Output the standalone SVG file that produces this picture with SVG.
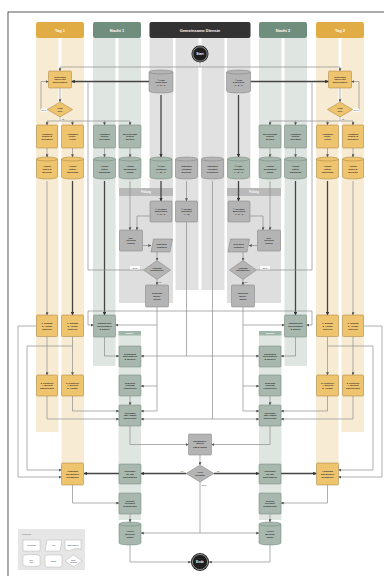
<svg xmlns="http://www.w3.org/2000/svg" width="384" height="576" viewBox="0 0 384 576">
<defs>
<style>
.hd{font-family:"Liberation Sans",Arial,sans-serif;font-weight:bold;font-size:4px;fill:#fff;text-anchor:middle}
.sh{font-family:"Liberation Sans",Arial,sans-serif;font-weight:bold;font-size:2.6px;fill:#fff;text-anchor:middle}
.t{font-family:"Liberation Sans",Arial,sans-serif;font-weight:bold;font-size:2.4px;fill:#2a2a2a;text-anchor:middle}
.tb{font-family:"Liberation Sans",Arial,sans-serif;font-weight:bold;font-size:3.2px;fill:#fff;text-anchor:middle}
.lb{font-family:"Liberation Sans",Arial,sans-serif;font-size:2.4px;fill:#333;text-anchor:middle}
.tg{fill:#efc46e;stroke:#a07f3f;stroke-width:0.5}
.ng{fill:#a8b8ae;stroke:#6d8276;stroke-width:0.5}
.gy{fill:#b4b4b4;stroke:#7d7d7d;stroke-width:0.5}
.lid{fill:none;stroke-width:0.5}
.lt{fill:#f8ebd3}
.ln{fill:#dfe5e1}
.lm{fill:#e1e1e1}
.c{fill:none;stroke:#8c8c8c;stroke-width:0.7}
.k{fill:none;stroke:#444;stroke-width:1.3}
.lgs{fill:#fff;stroke:#b5b5b5;stroke-width:0.5}
</style>
<marker id="a" viewBox="0 0 6 6" refX="5.5" refY="3" markerWidth="3" markerHeight="3" markerUnits="userSpaceOnUse" orient="auto"><path d="M0,0 L6,3 L0,6 z" fill="#555"/></marker>
<marker id="ak" viewBox="0 0 6 6" refX="5.5" refY="3" markerWidth="3.6" markerHeight="3.6" markerUnits="userSpaceOnUse" orient="auto"><path d="M0,0 L6,3 L0,6 z" fill="#333"/></marker>
</defs>
<rect x="0" y="0" width="384" height="576" fill="#fff"/>
<rect x="8" y="12" width="400" height="600" fill="#fff" stroke="#333" stroke-width="0.8"/>

<g id="lanes">
<rect class="lt" x="36" y="38" width="22.5" height="394"/>
<rect class="lt" x="61.5" y="38" width="22.5" height="432"/>
<rect class="lt" x="316" y="38" width="22.5" height="432"/>
<rect class="lt" x="341.5" y="38" width="22.5" height="394"/>
<rect class="ln" x="93" y="38" width="22.5" height="328"/>
<rect class="ln" x="118.5" y="38" width="22.5" height="150"/>
<rect class="ln" x="259" y="38" width="22.5" height="150"/>
<rect class="ln" x="284.5" y="38" width="22.5" height="328"/>
<rect class="ln" x="118.5" y="335" width="22.5" height="185"/>
<rect class="ln" x="259" y="335" width="22.5" height="185"/>
<rect class="lm" x="149.5" y="38" width="23.5" height="150"/>
<rect class="lm" x="175.5" y="38" width="23" height="252"/>
<rect class="lm" x="201.5" y="38" width="23" height="252"/>
<rect class="lm" x="227" y="38" width="23.5" height="150"/>
<rect x="119" y="188" width="54" height="115" fill="#dedede"/>
<rect x="119" y="188" width="54" height="8" fill="#b9b9b9"/>
<text class="sh" x="146" y="193">Prüfung</text>
<rect x="227" y="188" width="54" height="115" fill="#dedede"/>
<rect x="227" y="188" width="54" height="8" fill="#b9b9b9"/>
<text class="sh" x="254" y="193">Prüfung</text>
<rect x="118.5" y="331" width="22.5" height="4.5" fill="#9fb5a9"/>
<text class="sh" x="129.75" y="334.3" style="font-size:2.3px">Nacht 1</text>
<rect x="259" y="331" width="22.5" height="4.5" fill="#9fb5a9"/>
<text class="sh" x="270.25" y="334.3" style="font-size:2.3px">Nacht 2</text>
<rect x="36" y="22" width="48" height="16" rx="2" fill="#e2ac44"/>
<text class="hd" x="60" y="31.5">Tag 1</text>
<rect x="93" y="22" width="48" height="16" rx="2" fill="#6f8e7e"/>
<text class="hd" x="117" y="31.5">Nacht 1</text>
<rect x="149.5" y="22" width="101" height="16" rx="2" fill="#333"/>
<text class="hd" x="200" y="31.5">Gemeinsame Dienste</text>
<rect x="259" y="22" width="48" height="16" rx="2" fill="#6f8e7e"/>
<text class="hd" x="283" y="31.5">Nacht 2</text>
<rect x="316" y="22" width="48" height="16" rx="2" fill="#e2ac44"/>
<text class="hd" x="340" y="31.5">Tag 2</text>
</g>

<g id="connectors">
<path class="c" d="M200,62.5 V67 H60 V71" marker-end="url(#a)"/>
<path class="c" d="M200,67 H340 V71" marker-end="url(#a)"/>
<path class="k" d="M149,81.5 H71.5" marker-end="url(#ak)"/>
<path class="k" d="M250.5,81.5 H328.5" marker-end="url(#ak)"/>
<path class="k" d="M161,95 V157" marker-end="url(#ak)"/>
<path class="k" d="M238.5,95 V157" marker-end="url(#ak)"/>
<path class="c" d="M60,88 V102" marker-end="url(#a)"/>
<path class="c" d="M340,88 V102" marker-end="url(#a)"/>
<path class="c" d="M47.5,109.5 H41 V81.5 H48.5" marker-end="url(#a)"/>
<path class="c" d="M352.5,109.5 H359 V81.5 H351.5" marker-end="url(#a)"/>
<path class="c" d="M60,117 V121 M47,121 H130 M270,121 H353 M340,117 V121"/>
<path class="c" d="M47,121 V125" marker-end="url(#a)"/>
<path class="c" d="M72.5,121 V125" marker-end="url(#a)"/>
<path class="c" d="M104.5,121 V125" marker-end="url(#a)"/>
<path class="c" d="M130,121 V125" marker-end="url(#a)"/>
<path class="c" d="M270,121 V125" marker-end="url(#a)"/>
<path class="c" d="M295.5,121 V125" marker-end="url(#a)"/>
<path class="c" d="M327.5,121 V125" marker-end="url(#a)"/>
<path class="c" d="M353,121 V125" marker-end="url(#a)"/>
<path class="c" d="M47,148 V157" marker-end="url(#a)"/>
<path class="c" d="M72.5,148 V157" marker-end="url(#a)"/>
<path class="c" d="M104.5,148 V157" marker-end="url(#a)"/>
<path class="c" d="M130,148 V157" marker-end="url(#a)"/>
<path class="c" d="M270,148 V157" marker-end="url(#a)"/>
<path class="c" d="M295.5,148 V157" marker-end="url(#a)"/>
<path class="c" d="M327.5,148 V157" marker-end="url(#a)"/>
<path class="c" d="M353,148 V157" marker-end="url(#a)"/>
<path class="c" d="M47,181 V315" marker-end="url(#a)"/>
<path class="c" d="M353,181 V315" marker-end="url(#a)"/>
<path class="k" d="M72.5,181 V315" marker-end="url(#ak)"/>
<path class="k" d="M104.5,181 V315" marker-end="url(#ak)"/>
<path class="k" d="M295.5,181 V315" marker-end="url(#ak)"/>
<path class="k" d="M327.5,181 V315" marker-end="url(#ak)"/>
<path class="c" d="M130,181 V230" marker-end="url(#a)"/>
<path class="c" d="M270,181 V230" marker-end="url(#a)"/>
<path class="k" d="M161,181 V201" marker-end="url(#ak)"/>
<path class="k" d="M238.5,181 V201" marker-end="url(#ak)"/>
<path class="c" d="M186.5,181 V201" marker-end="url(#a)"/>
<path class="c" d="M150,216 H137 V230" marker-end="url(#a)"/>
<path class="c" d="M250,216 H263 V230" marker-end="url(#a)"/>
<path class="c" d="M142.5,245.5 H151" marker-end="url(#a)"/>
<path class="c" d="M257.5,245.5 H249" marker-end="url(#a)"/>
<path class="c" d="M157,252 V260.5" marker-end="url(#a)"/>
<path class="c" d="M243,252 V260.5" marker-end="url(#a)"/>
<path class="c" d="M143.5,270 H88 V82.5"/>
<path class="c" d="M256.5,270 H312 V82.5"/>
<path class="c" d="M157,279.5 V285" marker-end="url(#a)"/>
<path class="c" d="M243,279.5 V285" marker-end="url(#a)"/>
<path class="c" d="M157,307 V411 H141" marker-end="url(#a)"/>
<path class="c" d="M157,325 H115.5" marker-end="url(#a)"/>
<path class="c" d="M157,386 H141" marker-end="url(#a)"/>
<path class="c" d="M243,307 V411 H259" marker-end="url(#a)"/>
<path class="c" d="M243,325 H284.5" marker-end="url(#a)"/>
<path class="c" d="M243,386 H259" marker-end="url(#a)"/>
<path class="c" d="M186.5,222 V356 H141" marker-end="url(#a)"/>
<path class="c" d="M186.5,356 H259" marker-end="url(#a)"/>
<path class="c" d="M186.5,311 H88 V325 H93.5" marker-end="url(#a)"/>
<path class="c" d="M186.5,311 H312 V325 H306.5" marker-end="url(#a)"/>
<path class="c" d="M212.5,181 V419 H141" marker-end="url(#a)"/>
<path class="c" d="M212.5,419 H259" marker-end="url(#a)"/>
<path class="c" d="M104.5,337 V356 H119" marker-end="url(#a)"/>
<path class="c" d="M295.5,337 V356 H281" marker-end="url(#a)"/>
<path class="c" d="M47,336.5 V375" marker-end="url(#a)"/>
<path class="c" d="M72.5,336.5 V375" marker-end="url(#a)"/>
<path class="c" d="M327.5,336.5 V375" marker-end="url(#a)"/>
<path class="c" d="M353,336.5 V375" marker-end="url(#a)"/>
<path class="c" d="M36.5,326 H18 V477 H61.5" marker-end="url(#a)"/>
<path class="c" d="M72.5,346 H27 V470 H61.5" marker-end="url(#a)"/>
<path class="c" d="M363.5,326 H382 V477 H338.5" marker-end="url(#a)"/>
<path class="c" d="M327.5,346 H373 V470 H338.5" marker-end="url(#a)"/>
<path class="c" d="M47,396 V419 H119" marker-end="url(#a)"/>
<path class="c" d="M72.5,396 V411 H119" marker-end="url(#a)"/>
<path class="c" d="M353,396 V419 H281" marker-end="url(#a)"/>
<path class="c" d="M327.5,396 V411 H281" marker-end="url(#a)"/>
<path class="c" d="M130,396 V405" marker-end="url(#a)"/>
<path class="c" d="M270,396 V405" marker-end="url(#a)"/>
<path class="c" d="M130,426 V444.5 H188.5" marker-end="url(#a)"/>
<path class="c" d="M270,426 V444.5 H211.5" marker-end="url(#a)"/>
<path class="c" d="M200,455 V465" marker-end="url(#a)"/>
<path class="k" d="M186,473.5 H141" marker-end="url(#ak)"/>
<path class="k" d="M214,473.5 H259" marker-end="url(#ak)"/>
<path class="k" d="M119,473.5 H84" marker-end="url(#ak)"/>
<path class="k" d="M281,473.5 H316.5" marker-end="url(#ak)"/>
<path class="c" d="M72.5,485 V503 H119" marker-end="url(#a)"/>
<path class="c" d="M327.5,485 V503 H281" marker-end="url(#a)"/>
<path class="c" d="M130,514 V522" marker-end="url(#a)"/>
<path class="c" d="M270,514 V522" marker-end="url(#a)"/>
<path class="c" d="M200,482 V533 H141" marker-end="url(#a)"/>
<path class="c" d="M200,533 H259" marker-end="url(#a)"/>
<path class="c" d="M130,545 V562 H191" marker-end="url(#a)"/>
<path class="c" d="M270,545 V562 H209" marker-end="url(#a)"/>
<rect x="41" y="108.5" width="6" height="3.6" fill="#fff"/>
<text class="lb" x="44" y="111.2" style="font-size:2.2px">Nein</text>
<rect x="353" y="108.5" width="6" height="3.6" fill="#fff"/>
<text class="lb" x="356" y="111.2" style="font-size:2.2px">Nein</text>
<text class="lb" x="63" y="120" style="font-size:2.2px">Ja</text>
<text class="lb" x="343" y="120" style="font-size:2.2px">Ja</text>
<rect x="130" y="266" width="10" height="3.4" fill="#fff"/>
<text class="lb" x="135" y="268.6" style="font-size:2.2px">Nein</text>
<rect x="260" y="266" width="10" height="3.4" fill="#fff"/>
<text class="lb" x="265" y="268.6" style="font-size:2.2px">Nein</text>
<text class="lb" x="160" y="283.2" style="font-size:2.2px">Ja</text>
<text class="lb" x="246" y="283.2" style="font-size:2.2px">Ja</text>
<text class="lb" x="182" y="472" style="font-size:2.2px">Ja</text>
<text class="lb" x="218" y="472" style="font-size:2.2px">Ja</text>
<text class="lb" x="204" y="486" style="font-size:2.2px">Nein</text>
</g>

<g id="start"><circle cx="200" cy="54" r="8.5" fill="#1e1e1e"/><circle cx="200" cy="54" r="7.2" fill="none" stroke="#fff" stroke-width="0.5"/><text class="tb" x="200" y="55.2">Start</text></g>
<g id="ende"><circle cx="200" cy="562" r="9" fill="#1e1e1e"/><circle cx="200" cy="562" r="7.6" fill="none" stroke="#fff" stroke-width="0.5"/><text class="tb" x="200" y="563.2">Ende</text></g>

<g id="db-oben-1"><path class="gy" d="M149,72 a12,2 0 0 1 24,0 v19 a12,2 0 0 1 -24,0 z"/><path class="lid" stroke="#7d7d7d" d="M149,72 a12,2 0 0 0 24,0"/><text class="t" x="161" y="80.5">≡ Plan</text><text class="t" x="161" y="83.4">Schichten</text><text class="t" x="161" y="86.3">1 · 2 · 3</text></g>
<g id="db-oben-2"><path class="gy" d="M226.5,72 a12,2 0 0 1 24,0 v19 a12,2 0 0 1 -24,0 z"/><path class="lid" stroke="#7d7d7d" d="M226.5,72 a12,2 0 0 0 24,0"/><text class="t" x="238.5" y="80.5">≡ Plan</text><text class="t" x="238.5" y="83.4">Schichten</text><text class="t" x="238.5" y="86.3">1 · 2 · 3</text></g>

<g id="t1-einteilung"><rect class="tg" x="48.5" y="71" width="23" height="17" rx="1"/><text class="t" x="60" y="77.5">Einteilung</text><text class="t" x="60" y="80.4">nach Plan</text><text class="t" x="60" y="83.3">übernehmen</text></g>
<g id="t2-einteilung"><rect class="tg" x="328.5" y="71" width="23" height="17" rx="1"/><text class="t" x="340" y="77.5">Einteilung</text><text class="t" x="340" y="80.4">nach Plan</text><text class="t" x="340" y="83.3">übernehmen</text></g>
<g id="t1-frage"><polygon class="tg" points="47.5,109.5 60,102 72.5,109.5 60,117"/><text class="t" x="60" y="109">Plan</text><text class="t" x="60" y="111.6">ok?</text></g>
<g id="t2-frage"><polygon class="tg" points="327.5,109.5 340,102 352.5,109.5 340,117"/><text class="t" x="340" y="109">Plan</text><text class="t" x="340" y="111.6">ok?</text></g>

<g id="t1-a1"><rect class="tg" x="36.5" y="125" width="21" height="23" rx="1"/><text class="t" x="47" y="134.5">Aufgaben</text><text class="t" x="47" y="137.4">prüfen &amp;</text><text class="t" x="47" y="140.3">zuordnen</text></g>
<g id="t1-a2"><rect class="tg" x="61.5" y="125" width="22" height="23" rx="1"/><text class="t" x="72.5" y="134.5">Aufgaben</text><text class="t" x="72.5" y="137.4">vorbe-</text><text class="t" x="72.5" y="140.3">reiten</text></g>
<g id="n1-a1"><rect class="ng" x="93.5" y="125" width="22" height="23" rx="1"/><text class="t" x="104.5" y="134.5">Aufgaben</text><text class="t" x="104.5" y="137.4">prüfen</text><text class="t" x="104.5" y="140.3">Übergabe</text></g>
<g id="n1-a2"><rect class="ng" x="119" y="125" width="22" height="23" rx="1"/><text class="t" x="130" y="134.5">Bereitschaft</text><text class="t" x="130" y="137.4">prüfen</text><text class="t" x="130" y="140.3">melden</text></g>
<g id="n2-a1"><rect class="ng" x="259" y="125" width="22" height="23" rx="1"/><text class="t" x="270" y="134.5">Bereitschaft</text><text class="t" x="270" y="137.4">prüfen</text><text class="t" x="270" y="140.3">melden</text></g>
<g id="n2-a2"><rect class="ng" x="284.5" y="125" width="22" height="23" rx="1"/><text class="t" x="295.5" y="134.5">Aufgaben</text><text class="t" x="295.5" y="137.4">prüfen</text><text class="t" x="295.5" y="140.3">Übergabe</text></g>
<g id="t2-a1"><rect class="tg" x="316.5" y="125" width="22" height="23" rx="1"/><text class="t" x="327.5" y="134.5">Aufgaben</text><text class="t" x="327.5" y="137.4">vorbe-</text><text class="t" x="327.5" y="140.3">reiten</text></g>
<g id="t2-a2"><rect class="tg" x="342.5" y="125" width="21" height="23" rx="1"/><text class="t" x="353" y="134.5">Aufgaben</text><text class="t" x="353" y="137.4">prüfen &amp;</text><text class="t" x="353" y="140.3">zuordnen</text></g>

<g id="t1-b1"><path class="tg" d="M36.5,159 a10.5,2 0 0 1 21,0 v18 a10.5,2 0 0 1 -21,0 z"/><path class="lid" stroke="#a07f3f" d="M36.5,159 a10.5,2 0 0 0 21,0"/><text class="t" x="47" y="167">Ablage</text><text class="t" x="47" y="169.9">Daten &amp;</text><text class="t" x="47" y="172.8">Berichte</text></g>
<g id="t1-b2"><path class="tg" d="M61.5,159 a11,2 0 0 1 22,0 v18 a11,2 0 0 1 -22,0 z"/><path class="lid" stroke="#a07f3f" d="M61.5,159 a11,2 0 0 0 22,0"/><text class="t" x="72.5" y="167">Ablage</text><text class="t" x="72.5" y="169.9">Daten</text><text class="t" x="72.5" y="172.8">Tagesplan</text></g>
<g id="n1-b1"><path class="ng" d="M93.5,159 a11,2 0 0 1 22,0 v18 a11,2 0 0 1 -22,0 z"/><path class="lid" stroke="#6d8276" d="M93.5,159 a11,2 0 0 0 22,0"/><text class="t" x="104.5" y="167">Ablage</text><text class="t" x="104.5" y="169.9">Daten</text><text class="t" x="104.5" y="172.8">Nachtplan</text></g>
<g id="n1-b2"><path class="ng" d="M119,159 a11,2 0 0 1 22,0 v18 a11,2 0 0 1 -22,0 z"/><path class="lid" stroke="#6d8276" d="M119,159 a11,2 0 0 0 22,0"/><text class="t" x="130" y="167">Ablage</text><text class="t" x="130" y="169.9">Meldungen</text><text class="t" x="130" y="172.8">Nacht</text></g>
<g id="m-b1"><path class="ng" d="M150,159 a11,2 0 0 1 22,0 v18 a11,2 0 0 1 -22,0 z"/><path class="lid" stroke="#6d8276" d="M150,159 a11,2 0 0 0 22,0"/><text class="t" x="161" y="167">≡ Liste</text><text class="t" x="161" y="169.9">Vorgaben</text><text class="t" x="161" y="172.8">A · B · C</text></g>
<g id="m-b2"><path class="gy" d="M175.5,159 a11,2 0 0 1 22,0 v18 a11,2 0 0 1 -22,0 z"/><path class="lid" stroke="#7d7d7d" d="M175.5,159 a11,2 0 0 0 22,0"/><text class="t" x="186.5" y="167">Standard</text><text class="t" x="186.5" y="169.9">Vorlagen</text><text class="t" x="186.5" y="172.8">Berichte</text></g>
<g id="m-b3"><path class="gy" d="M201.5,159 a11,2 0 0 1 22,0 v18 a11,2 0 0 1 -22,0 z"/><path class="lid" stroke="#7d7d7d" d="M201.5,159 a11,2 0 0 0 22,0"/><text class="t" x="212.5" y="167">Standard</text><text class="t" x="212.5" y="169.9">Vorlagen</text><text class="t" x="212.5" y="172.8">Protokolle</text></g>
<g id="m-b4"><path class="ng" d="M227.5,159 a11,2 0 0 1 22,0 v18 a11,2 0 0 1 -22,0 z"/><path class="lid" stroke="#6d8276" d="M227.5,159 a11,2 0 0 0 22,0"/><text class="t" x="238.5" y="167">≡ Liste</text><text class="t" x="238.5" y="169.9">Vorgaben</text><text class="t" x="238.5" y="172.8">A · B · C</text></g>
<g id="n2-b1"><path class="ng" d="M259,159 a11,2 0 0 1 22,0 v18 a11,2 0 0 1 -22,0 z"/><path class="lid" stroke="#6d8276" d="M259,159 a11,2 0 0 0 22,0"/><text class="t" x="270" y="167">Ablage</text><text class="t" x="270" y="169.9">Meldungen</text><text class="t" x="270" y="172.8">Nacht</text></g>
<g id="n2-b2"><path class="ng" d="M284.5,159 a11,2 0 0 1 22,0 v18 a11,2 0 0 1 -22,0 z"/><path class="lid" stroke="#6d8276" d="M284.5,159 a11,2 0 0 0 22,0"/><text class="t" x="295.5" y="167">Ablage</text><text class="t" x="295.5" y="169.9">Daten</text><text class="t" x="295.5" y="172.8">Nachtplan</text></g>
<g id="t2-b1"><path class="tg" d="M316.5,159 a11,2 0 0 1 22,0 v18 a11,2 0 0 1 -22,0 z"/><path class="lid" stroke="#a07f3f" d="M316.5,159 a11,2 0 0 0 22,0"/><text class="t" x="327.5" y="167">Ablage</text><text class="t" x="327.5" y="169.9">Daten</text><text class="t" x="327.5" y="172.8">Tagesplan</text></g>
<g id="t2-b2"><path class="tg" d="M342.5,159 a10.5,2 0 0 1 21,0 v18 a10.5,2 0 0 1 -21,0 z"/><path class="lid" stroke="#a07f3f" d="M342.5,159 a10.5,2 0 0 0 21,0"/><text class="t" x="353" y="167">Ablage</text><text class="t" x="353" y="169.9">Daten &amp;</text><text class="t" x="353" y="172.8">Berichte</text></g>

<g id="p1-check"><rect class="gy" x="150" y="201" width="22" height="21" rx="1"/><text class="t" x="161" y="209.5">≡ Vorgabe</text><text class="t" x="161" y="212.4">abgleichen</text><text class="t" x="161" y="215.3">1 · 2 · 3</text></g>
<g id="m-vorlage"><rect class="gy" x="175.5" y="201" width="22" height="21" rx="1"/><text class="t" x="186.5" y="209.5">≡ Vorlage</text><text class="t" x="186.5" y="212.4">ausfüllen</text><text class="t" x="186.5" y="215.3">A · B</text></g>
<g id="p2-check"><rect class="gy" x="228" y="201" width="22" height="21" rx="1"/><text class="t" x="239" y="209.5">≡ Vorgabe</text><text class="t" x="239" y="212.4">abgleichen</text><text class="t" x="239" y="215.3">1 · 2 · 3</text></g>
<g id="p1-ein"><rect class="gy" x="119.5" y="230" width="23" height="21" rx="1"/><text class="t" x="131" y="238.5">Ein-</text><text class="t" x="131" y="241.4">Stellung</text><text class="t" x="131" y="244.3">prüfen</text></g>
<g id="p2-ein"><rect class="gy" x="257.5" y="230" width="23" height="21" rx="1"/><text class="t" x="269" y="238.5">Ein-</text><text class="t" x="269" y="241.4">Stellung</text><text class="t" x="269" y="244.3">prüfen</text></g>
<g id="p1-daten"><polygon class="gy" points="153.5,239 172.5,239 170,252 151,252"/><text class="t" x="161.7" y="244.8">Ergebnis</text><text class="t" x="161.7" y="247.7">erfassen</text></g>
<g id="p2-daten"><polygon class="gy" points="230.5,239 249.5,239 247,252 228,252"/><text class="t" x="238.7" y="244.8">Ergebnis</text><text class="t" x="238.7" y="247.7">erfassen</text></g>
<g id="p1-frage"><polygon class="gy" points="143.5,270 157,260.5 170.5,270 157,279.5"/><text class="t" x="157" y="268.5">Prüfung</text><text class="t" x="157" y="271.4">bestanden?</text></g>
<g id="p2-frage"><polygon class="gy" points="229.5,270 243,260.5 256.5,270 243,279.5"/><text class="t" x="243" y="268.5">Prüfung</text><text class="t" x="243" y="271.4">bestanden?</text></g>
<g id="p1-ergebnis"><rect class="gy" x="145.5" y="285" width="23" height="22" rx="1"/><text class="t" x="157" y="294">Ergebnis</text><text class="t" x="157" y="296.9">weiter-</text><text class="t" x="157" y="299.8">geben</text></g>
<g id="p2-ergebnis"><rect class="gy" x="231.5" y="285" width="23" height="22" rx="1"/><text class="t" x="243" y="294">Ergebnis</text><text class="t" x="243" y="296.9">weiter-</text><text class="t" x="243" y="299.8">geben</text></g>

<g id="t1-c1"><rect class="tg" x="36.5" y="315" width="21" height="21.5" rx="1"/><text class="t" x="47" y="323.8">1. Einsatz</text><text class="t" x="47" y="326.7">2. Ablauf</text><text class="t" x="47" y="329.6">notieren</text></g>
<g id="t1-c2"><rect class="tg" x="61.5" y="315" width="22" height="21.5" rx="1"/><text class="t" x="72.5" y="323.8">1. Einsatz</text><text class="t" x="72.5" y="326.7">2. Ablauf</text><text class="t" x="72.5" y="329.6">notieren</text></g>
<g id="n1-c"><rect class="ng" x="93.5" y="315" width="22" height="22" rx="1"/><text class="t" x="104.5" y="323.8">Nachtdienst</text><text class="t" x="104.5" y="326.7">übernehmen</text><text class="t" x="104.5" y="329.6">&amp; prüfen</text></g>
<g id="n2-c"><rect class="ng" x="284.5" y="315" width="22" height="22" rx="1"/><text class="t" x="295.5" y="323.8">Nachtdienst</text><text class="t" x="295.5" y="326.7">übernehmen</text><text class="t" x="295.5" y="329.6">&amp; prüfen</text></g>
<g id="t2-c1"><rect class="tg" x="316.5" y="315" width="22" height="21.5" rx="1"/><text class="t" x="327.5" y="323.8">1. Einsatz</text><text class="t" x="327.5" y="326.7">2. Ablauf</text><text class="t" x="327.5" y="329.6">notieren</text></g>
<g id="t2-c2"><rect class="tg" x="342.5" y="315" width="21" height="21.5" rx="1"/><text class="t" x="353" y="323.8">1. Einsatz</text><text class="t" x="353" y="326.7">2. Ablauf</text><text class="t" x="353" y="329.6">notieren</text></g>

<g id="t1-d1"><rect class="tg" x="36.5" y="375" width="21" height="21" rx="1"/><text class="t" x="47" y="383.5">3. Kontrolle</text><text class="t" x="47" y="386.4">4. Bericht</text><text class="t" x="47" y="389.3">abschließen</text></g>
<g id="t1-d2"><rect class="tg" x="61.5" y="375" width="22" height="21" rx="1"/><text class="t" x="72.5" y="383.5">3. Kontrolle</text><text class="t" x="72.5" y="386.4">4. Bericht</text><text class="t" x="72.5" y="389.3">5. Ablage</text></g>
<g id="t2-d1"><rect class="tg" x="316.5" y="375" width="22" height="21" rx="1"/><text class="t" x="327.5" y="383.5">3. Kontrolle</text><text class="t" x="327.5" y="386.4">4. Bericht</text><text class="t" x="327.5" y="389.3">5. Ablage</text></g>
<g id="t2-d2"><rect class="tg" x="342.5" y="375" width="21" height="21" rx="1"/><text class="t" x="353" y="383.5">3. Kontrolle</text><text class="t" x="353" y="386.4">4. Bericht</text><text class="t" x="353" y="389.3">abschließen</text></g>

<g id="n1-d1"><rect class="ng" x="119" y="346" width="22" height="21" rx="1"/><text class="t" x="130" y="354.5">Rundgang</text><text class="t" x="130" y="357.4">durchführen</text><text class="t" x="130" y="360.3">&amp; melden</text></g>
<g id="n1-d2"><rect class="ng" x="119" y="375" width="22" height="21" rx="1"/><text class="t" x="130" y="383.5">Ergebnis</text><text class="t" x="130" y="386.4">Prüfung</text><text class="t" x="130" y="389.3">einarbeiten</text></g>
<g id="n1-d3"><rect class="ng" x="119" y="405" width="22" height="21" rx="1"/><text class="t" x="130" y="413.5">Übergabe</text><text class="t" x="130" y="416.4">Tag / Nacht</text><text class="t" x="130" y="419.3">vorbereiten</text></g>
<g id="n1-d4"><rect class="ng" x="119" y="464" width="22" height="20" rx="1"/><text class="t" x="130" y="472">Übergabe</text><text class="t" x="130" y="474.9">an Tag</text><text class="t" x="130" y="477.8">durchführen</text></g>
<g id="n1-d5"><rect class="ng" x="119" y="493" width="22" height="21" rx="1"/><text class="t" x="130" y="501.5">Schicht</text><text class="t" x="130" y="504.4">beenden</text><text class="t" x="130" y="507.3">&amp; abmelden</text></g>
<g id="n1-d6"><path class="ng" d="M119,524 a11,2 0 0 1 22,0 v19 a11,2 0 0 1 -22,0 z"/><path class="lid" stroke="#6d8276" d="M119,524 a11,2 0 0 0 22,0"/><text class="t" x="130" y="532">Archiv</text><text class="t" x="130" y="534.9">Berichte</text><text class="t" x="130" y="537.8">Nacht</text></g>
<g id="n2-d1"><rect class="ng" x="259" y="346" width="22" height="21" rx="1"/><text class="t" x="270" y="354.5">Rundgang</text><text class="t" x="270" y="357.4">durchführen</text><text class="t" x="270" y="360.3">&amp; melden</text></g>
<g id="n2-d2"><rect class="ng" x="259" y="375" width="22" height="21" rx="1"/><text class="t" x="270" y="383.5">Ergebnis</text><text class="t" x="270" y="386.4">Prüfung</text><text class="t" x="270" y="389.3">einarbeiten</text></g>
<g id="n2-d3"><rect class="ng" x="259" y="405" width="22" height="21" rx="1"/><text class="t" x="270" y="413.5">Übergabe</text><text class="t" x="270" y="416.4">Tag / Nacht</text><text class="t" x="270" y="419.3">vorbereiten</text></g>
<g id="n2-d4"><rect class="ng" x="259" y="464" width="22" height="20" rx="1"/><text class="t" x="270" y="472">Übergabe</text><text class="t" x="270" y="474.9">an Tag</text><text class="t" x="270" y="477.8">durchführen</text></g>
<g id="n2-d5"><rect class="ng" x="259" y="493" width="22" height="21" rx="1"/><text class="t" x="270" y="501.5">Schicht</text><text class="t" x="270" y="504.4">beenden</text><text class="t" x="270" y="507.3">&amp; abmelden</text></g>
<g id="n2-d6"><path class="ng" d="M259,524 a11,2 0 0 1 22,0 v19 a11,2 0 0 1 -22,0 z"/><path class="lid" stroke="#6d8276" d="M259,524 a11,2 0 0 0 22,0"/><text class="t" x="270" y="532">Archiv</text><text class="t" x="270" y="534.9">Berichte</text><text class="t" x="270" y="537.8">Nacht</text></g>

<g id="t1-e"><rect class="tg" x="61.5" y="463" width="22" height="22" rx="1"/><text class="t" x="72.5" y="472">Ablösung</text><text class="t" x="72.5" y="474.9">am Morgen</text><text class="t" x="72.5" y="477.8">bestätigen</text></g>
<g id="t2-e"><rect class="tg" x="316.5" y="463" width="22" height="22" rx="1"/><text class="t" x="327.5" y="472">Ablösung</text><text class="t" x="327.5" y="474.9">am Morgen</text><text class="t" x="327.5" y="477.8">bestätigen</text></g>
<g id="m-zusammen"><rect class="gy" x="188.5" y="434" width="23" height="21" rx="1"/><text class="t" x="200" y="441.5">Zusammen-</text><text class="t" x="200" y="444.4">führen</text><text class="t" x="200" y="448.3">Tag &amp; Nacht</text></g>
<g id="m-frage"><polygon class="gy" points="186,473.5 200,465 214,473.5 200,482"/><text class="t" x="200" y="472.8">Alles</text><text class="t" x="200" y="475.6">erledigt?</text></g>

<g id="legende">
<rect x="18" y="529" width="67" height="41" rx="1" fill="#e6e6e6"/>
<text class="lb" x="22" y="534.5" style="text-anchor:start;fill:#666">Legende</text>
<rect class="lgs" x="23" y="540" width="17" height="11"/><text class="lb" x="31.5" y="546.3">Prozess</text>
<polygon class="lgs" points="47,540 62,540 60,551 45,551"/><text class="lb" x="53.5" y="546.3">I/O</text>
<path class="lgs" d="M65,540 H81 V549.5 Q77,547 73,549.5 T65,549.5 Z"/><text class="lb" x="73" y="545.6">Dokument</text>
<path class="lgs" d="M23,556 a8.5,1.5 0 0 1 17,0 v9 a8.5,1.5 0 0 1 -17,0 z"/><text class="lb" x="31.5" y="560.5">Da-</text><text class="lb" x="31.5" y="563.3">ten</text>
<rect class="lgs" x="45" y="555" width="17" height="12" rx="2"/><text class="lb" x="53.5" y="561.8">Notiz</text>
<polygon class="lgs" points="65,561 73.5,555 82,561 73.5,567"/><text class="lb" x="73.5" y="560.6">Ent-</text><text class="lb" x="73.5" y="563.2">scheid</text>
</g>
</svg>
